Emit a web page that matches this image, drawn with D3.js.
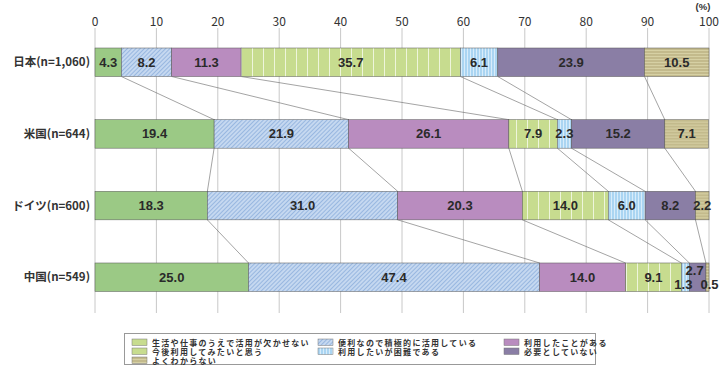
<!DOCTYPE html>
<html lang="ja">
<head>
<meta charset="utf-8">
<script src="https://cdn.jsdelivr.net/npm/d3@7"></script>
<style>
  body { margin: 0; background: #fff; }
  svg { display: block; font-family: "Noto Sans CJK JP", "Noto Sans", sans-serif; }
</style>
</head>
<body>
<div id="chart"></div>
<script>
  // categories, answers and values (%)
  var countries = ['日本(n=1,060)', '米国(n=644)', 'ドイツ(n=600)', '中国(n=549)'];
  var answers = ['生活や仕事のうえで活用が欠かせない', '便利なので積極的に活用している', '利用したことがある',
                 '今後利用してみたいと思う', '利用したいが困難である', '必要としていない', 'よくわからない'];
  var japan   = [4.3, 8.2, 11.3, 35.7, 6.1, 23.9, 10.5];
  var usa     = [19.4, 21.9, 26.1, 7.9, 2.3, 15.2, 7.1];
  var germany = [18.3, 31.0, 20.3, 14.0, 6.0, 8.2, 2.2];
  var china   = [25.0, 47.4, 14.0, 9.1, 1.3, 2.7, 0.5];
  var ticks = [0, 10, 20, 30, 40, 50, 60, 70, 80, 90, 100];

  var rows = [japan, usa, germany, china];

  var width = 726, height = 365;
  var svg = d3.select('#chart').append('svg')
    .attr('width', width).attr('height', height);

  var defs = svg.append('defs');
  // diagonal hatch for 便利なので...
  var p1 = defs.append('pattern').attr('id', 'diag').attr('patternUnits', 'userSpaceOnUse')
    .attr('width', 3).attr('height', 3).attr('patternTransform', 'rotate(45)');
  p1.append('rect').attr('width', 3).attr('height', 3).attr('fill', '#c5d8f0');
  p1.append('line').attr('x1', 0).attr('y1', 0).attr('x2', 0).attr('y2', 3)
    .attr('stroke', '#7fa6d8').attr('stroke-width', 1.3);
  // white vertical lines for 今後利用...
  var p2 = defs.append('pattern').attr('id', 'vgreen').attr('patternUnits', 'userSpaceOnUse')
    .attr('width', 11).attr('height', 10);
  p2.append('rect').attr('width', 11).attr('height', 10).attr('fill', '#c7dc8f');
  p2.append('line').attr('x1', 10.5).attr('y1', 0).attr('x2', 10.5).attr('y2', 10)
    .attr('stroke', '#eef5dc').attr('stroke-width', 1);
  // blue vertical stripes for 利用したいが困難
  var p3 = defs.append('pattern').attr('id', 'vblue').attr('patternUnits', 'userSpaceOnUse')
    .attr('width', 3).attr('height', 10);
  p3.append('rect').attr('width', 3).attr('height', 10).attr('fill', '#d8ecfa');
  p3.append('line').attr('x1', 1).attr('y1', 0).attr('x2', 1).attr('y2', 10)
    .attr('stroke', '#8cc6ee').attr('stroke-width', 1.2);
  // horizontal lines for よくわからない
  var p4 = defs.append('pattern').attr('id', 'htan').attr('patternUnits', 'userSpaceOnUse')
    .attr('width', 10).attr('height', 3);
  p4.append('rect').attr('width', 10).attr('height', 3).attr('fill', '#d6d0a4');
  p4.append('line').attr('x1', 0).attr('y1', 1).attr('x2', 10).attr('y2', 1)
    .attr('stroke', '#b0a574').attr('stroke-width', 1);

  var fills = ['#9bc985', 'url(#diag)', '#b98cbf', 'url(#vgreen)', 'url(#vblue)', '#8a7ea5', 'url(#htan)'];
  var legendFills = ['#c7dc8f', 'url(#diag)', '#b98cbf', '#c7dc8f', 'url(#vblue)', '#8a7ea5', 'url(#htan)'];

  var x = d3.scaleLinear().domain([0, 100]).range([95, 709]);
  var y = d3.scaleBand().domain(countries).range([26.5, 313]).paddingInner(0.602).paddingOuter(0.3);

  // grid
  svg.append('g').selectAll('line').data(ticks).enter().append('line')
    .attr('x1', function(d) { return x(d); }).attr('x2', function(d) { return x(d); })
    .attr('y1', 28).attr('y2', 313)
    .attr('stroke', '#c8c8c8').attr('stroke-width', 1);

  svg.append('g').selectAll('text').data(ticks).enter().append('text')
    .attr('x', function(d) { return x(d); }).attr('y', 26)
    .attr('text-anchor', 'middle').attr('font-size', 12).attr('fill', '#333')
    .text(function(d) { return d; });

  svg.append('text').attr('x', 703).attr('y', 10).attr('text-anchor', 'middle')
    .attr('font-family', '"Liberation Sans", sans-serif')
    .attr('font-size', 9.5).attr('font-weight', 'bold').attr('fill', '#333').text('(%)');

  // cumulative stacks
  var stacks = rows.map(function(vals) {
    var acc = 0;
    return vals.map(function(v, i) {
      var s = { x0: acc, x1: acc + v, v: v, i: i };
      acc += v;
      return s;
    });
  });

  // connector lines between rows
  var conn = svg.append('g');
  for (var r = 0; r < stacks.length - 1; r++) {
    for (var k = 0; k < 6; k++) {
      conn.append('line')
        .attr('x1', x(stacks[r][k].x1)).attr('y1', y(countries[r]) + y.bandwidth())
        .attr('x2', x(stacks[r + 1][k].x1)).attr('y2', y(countries[r + 1]))
        .attr('stroke', '#666').attr('stroke-width', 0.6);
    }
  }

  var bars = svg.append('g').selectAll('g').data(stacks).enter().append('g')
    .attr('transform', function(d, i) { return 'translate(0,' + y(countries[i]) + ')'; });

  bars.selectAll('rect').data(function(d) { return d; }).enter().append('rect')
    .attr('x', function(d) { return x(d.x0); })
    .attr('width', function(d) { return x(d.x1) - x(d.x0); })
    .attr('height', y.bandwidth())
    .attr('fill', function(d) { return fills[d.i]; })
    .attr('stroke', '#555').attr('stroke-width', 0.5);

  // small china segments get offset labels
  var dyOffsets = { '3_4': 7.5, '3_5': -7, '3_6': 7.5 };
  var dxOffsets = { '3_4': -2, '3_5': -3, '3_6': 2 };
  bars.each(function(row, ri) {
    d3.select(this).selectAll('text').data(row).enter().append('text')
      .attr('x', function(d) { return x((d.x0 + d.x1) / 2) + (dxOffsets[ri + '_' + d.i] || 0); })
      .attr('y', function(d) { return y.bandwidth() / 2 + 4.5 + (dyOffsets[ri + '_' + d.i] || 0); })
      .attr('text-anchor', 'middle').attr('font-size', 13).attr('font-weight', 'bold')
      .attr('font-family', '"Liberation Sans", sans-serif')
      .attr('fill', '#2a2a2a')
      .text(function(d) { return d.v.toFixed(1); });
  });

  // category labels
  svg.append('g').selectAll('text').data(countries).enter().append('text')
    .attr('x', 90).attr('y', function(d) { return y(d) + y.bandwidth() / 2 + 4; })
    .attr('text-anchor', 'end').attr('font-size', 11.5).attr('font-weight', 'bold').attr('fill', '#333')
    .text(function(d) { return d; });

  // legend
  var lg = svg.append('g');
  lg.append('rect').attr('x', 124.5).attr('y', 333.5).attr('width', 471).attr('height', 31)
    .attr('fill', '#fff').attr('stroke', '#999').attr('stroke-width', 1);
  var colX = [132, 318, 504];
  var items = lg.selectAll('g.item').data(answers).enter().append('g').attr('class', 'item')
    .attr('transform', function(d, i) {
      return 'translate(' + colX[i % 3] + ',' + (339 + Math.floor(i / 3) * 9) + ')';
    });
  items.append('rect').attr('width', 15).attr('height', 6.5)
    .attr('fill', function(d, i) { return legendFills[i]; })
    .attr('stroke', '#777').attr('stroke-width', 0.5);
  items.append('text').attr('x', 20).attr('y', 6.6).attr('font-size', 8)
    .attr('font-family', '"Liberation Sans", "Noto Sans CJK JP", sans-serif')
    .attr('font-weight', 'bold').attr('letter-spacing', 1.3)
    .attr('fill', '#333').text(function(d) { return d; });
</script>
</body>
</html>
